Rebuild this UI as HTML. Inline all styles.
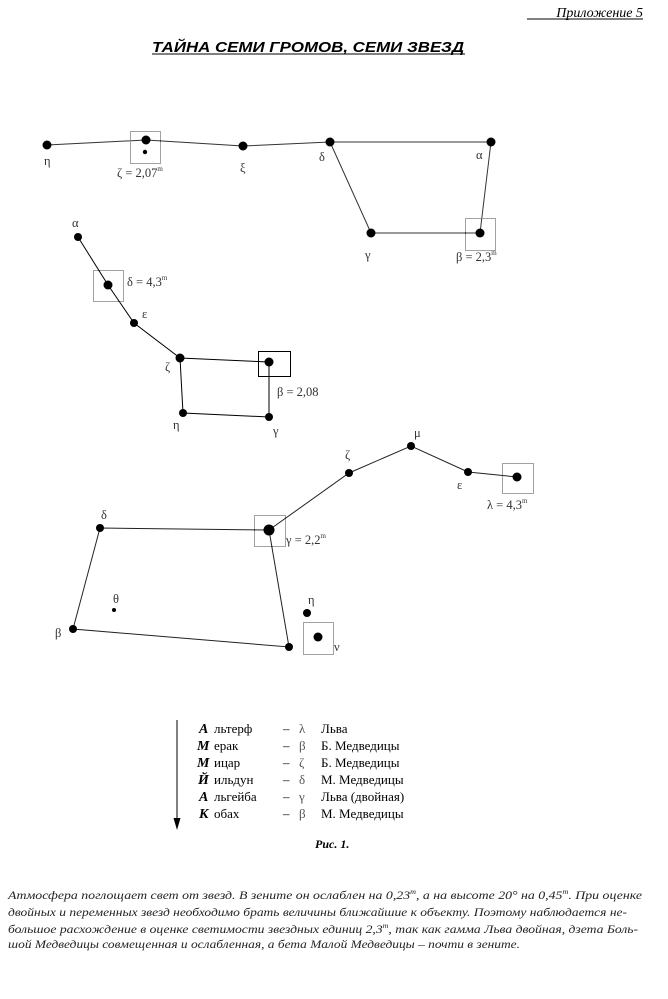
<!DOCTYPE html>
<html><head><meta charset="utf-8"><style>
html,body{margin:0;padding:0;background:#fff;}
body{width:668px;height:999px;position:relative;overflow:hidden;font-family:"Liberation Serif",serif;}
svg{position:absolute;left:0;top:0;}
.t{font-family:"Liberation Serif",serif;font-size:13px;fill:#000;}
.g{font-family:"Liberation Serif",serif;font-size:12.5px;fill:#333;}
.p{font-family:"Liberation Serif",serif;font-size:12px;font-style:italic;fill:#222;}
</style></head><body>
<svg width="668" height="999" viewBox="0 0 668 999">
<text x="643" y="17" text-anchor="end" style="font-family:'Liberation Serif',serif;font-size:14px;font-style:italic">Приложение 5</text>
<line x1="527" y1="19" x2="643" y2="19" stroke="#000" stroke-width="1"/>
<text x="308" y="52" text-anchor="middle" textLength="312" lengthAdjust="spacingAndGlyphs" style="font-family:'Liberation Sans',sans-serif;font-size:14.5px;font-weight:bold;font-style:italic">ТАЙНА СЕМИ ГРОМОВ, СЕМИ ЗВЕЗД</text>
<line x1="152" y1="54" x2="465" y2="54" stroke="#000"/>

<g stroke="#000" stroke-width="1" fill="none">
<polyline points="47,145 146,140 243,146 330,142 491,142 480,233 371,233 330,142" stroke="#333"/>
<polyline points="78,237 108,285 134,323 180,358 269,362 269,417 183,413 180,358"/>
<polyline points="517,477 468,472 411,446 349,473 269,530 100,528 73,629 289,647 269,530" stroke="#222"/>
</g>
<g stroke="#444" stroke-width="1" stroke-dasharray="1,1" fill="none">
<rect x="130.5" y="131.5" width="30" height="32"/>
<rect x="465.5" y="218.5" width="30" height="32"/>
<rect x="93.5" y="270.5" width="30" height="31"/>
<rect x="502.5" y="463.5" width="31" height="30"/>
<rect x="254.5" y="515.5" width="31" height="31"/>
<rect x="303.5" y="622.5" width="30" height="32"/>
</g>
<rect x="258.5" y="351.5" width="32" height="25" fill="none" stroke="#000"/>
<g fill="#000">
<circle cx="47" cy="145" r="4.5"/><circle cx="146" cy="140" r="4.5"/><circle cx="145" cy="152" r="2.2"/>
<circle cx="243" cy="146" r="4.5"/><circle cx="330" cy="142" r="4.5"/><circle cx="491" cy="142" r="4.5"/>
<circle cx="480" cy="233" r="4.5"/><circle cx="371" cy="233" r="4.5"/>
<circle cx="78" cy="237" r="4"/><circle cx="108" cy="285" r="4.5"/><circle cx="134" cy="323" r="4"/>
<circle cx="180" cy="358" r="4.5"/><circle cx="269" cy="362" r="4.5"/><circle cx="269" cy="417" r="4"/><circle cx="183" cy="413" r="4"/>
<circle cx="517" cy="477" r="4.5"/><circle cx="468" cy="472" r="4"/><circle cx="411" cy="446" r="4"/>
<circle cx="349" cy="473" r="4"/><circle cx="269" cy="530" r="5.5"/><circle cx="100" cy="528" r="4"/>
<circle cx="73" cy="629" r="4"/><circle cx="289" cy="647" r="4"/><circle cx="114" cy="610" r="2"/>
<circle cx="307" cy="613" r="4"/><circle cx="318" cy="637" r="4.5"/>
</g>
<g class="g">
<text x="44" y="165">η</text>
<text x="117" y="177">ζ = 2,07<tspan font-size="7" dy="-6">m</tspan></text>
<text x="240" y="172">ξ</text>
<text x="319" y="161">δ</text>
<text x="476" y="159">α</text>
<text x="365" y="259">γ</text>
<text x="456" y="261">β = 2,3<tspan font-size="7" dy="-6">m</tspan></text>
<text x="72" y="227">α</text>
<text x="127" y="286">δ = 4,3<tspan font-size="7" dy="-6">m</tspan></text>
<text x="142" y="318">ε</text>
<text x="165" y="371">ζ</text>
<text x="277" y="396">β = 2,08</text>
<text x="173" y="429">η</text>
<text x="273" y="435">γ</text>
<text x="414" y="437">μ</text>
<text x="345" y="459">ζ</text>
<text x="457" y="489">ε</text>
<text x="487" y="509">λ = 4,3<tspan font-size="7" dy="-6">m</tspan></text>
<text x="101" y="519">δ</text>
<text x="286" y="544">γ = 2,2<tspan font-size="7" dy="-6">m</tspan></text>
<text x="113" y="603">θ</text>
<text x="55" y="637">β</text>
<text x="308" y="604">η</text>
<text x="334" y="651">ν</text>
</g>
<line x1="177" y1="720" x2="177" y2="820" stroke="#000"/>
<polygon points="173.5,818 180.5,818 177,830" fill="#000"/>
<g class="t">
<g font-weight="bold" font-style="italic" font-size="14">
<text x="199" y="733">А</text><text x="197" y="750">М</text><text x="197" y="767">М</text>
<text x="198" y="784">Й</text><text x="199" y="801">А</text><text x="199" y="818">К</text></g>
<text x="214" y="733">льтерф</text><text x="214" y="750">ерак</text><text x="214" y="767">ицар</text>
<text x="214" y="784">ильдун</text><text x="214" y="801">льгейба</text><text x="214" y="818">обах</text>
<text x="283" y="733">–</text><text x="283" y="750">–</text><text x="283" y="767">–</text>
<text x="283" y="784">–</text><text x="283" y="801">–</text><text x="283" y="818">–</text>
<g fill="#555"><text x="299" y="733">λ</text><text x="299" y="750">β</text><text x="299" y="767">ζ</text>
<text x="299" y="784">δ</text><text x="299" y="801">γ</text><text x="299" y="818">β</text></g>
<text x="321" y="733">Льва</text><text x="321" y="750">Б. Медведицы</text><text x="321" y="767">Б. Медведицы</text>
<text x="321" y="784">М. Медведицы</text><text x="321" y="801">Льва (двойная)</text><text x="321" y="818">М. Медведицы</text>
<text x="315" y="848" font-weight="bold" font-style="italic" font-size="12">Рис. 1.</text>
</g>
<g class="p">
<text x="8" y="899" textLength="634" lengthAdjust="spacingAndGlyphs">Атмосфера поглощает свет от звезд. В зените он ослаблен на 0,23<tspan font-size="7" dy="-5">m</tspan><tspan dy="5">, а на высоте 20° на 0,45</tspan><tspan font-size="7" dy="-5">m</tspan><tspan dy="5">. При оценке</tspan></text>
<text x="8" y="916" textLength="619" lengthAdjust="spacingAndGlyphs">двойных и переменных звезд необходимо брать величины ближайшие к объекту. Поэтому наблюдается не-</text>
<text x="8" y="933" textLength="630" lengthAdjust="spacingAndGlyphs">большое расхождение в оценке светимости звездных единиц 2,3<tspan font-size="7" dy="-5">m</tspan><tspan dy="5">, так как гамма Льва двойная, дзета  Боль-</tspan></text>
<text x="8" y="948" textLength="512" lengthAdjust="spacingAndGlyphs">шой Медведицы совмещенная и ослабленная, а бета Малой Медведицы – почти в зените.</text>
</g>
</svg>
</body></html>
